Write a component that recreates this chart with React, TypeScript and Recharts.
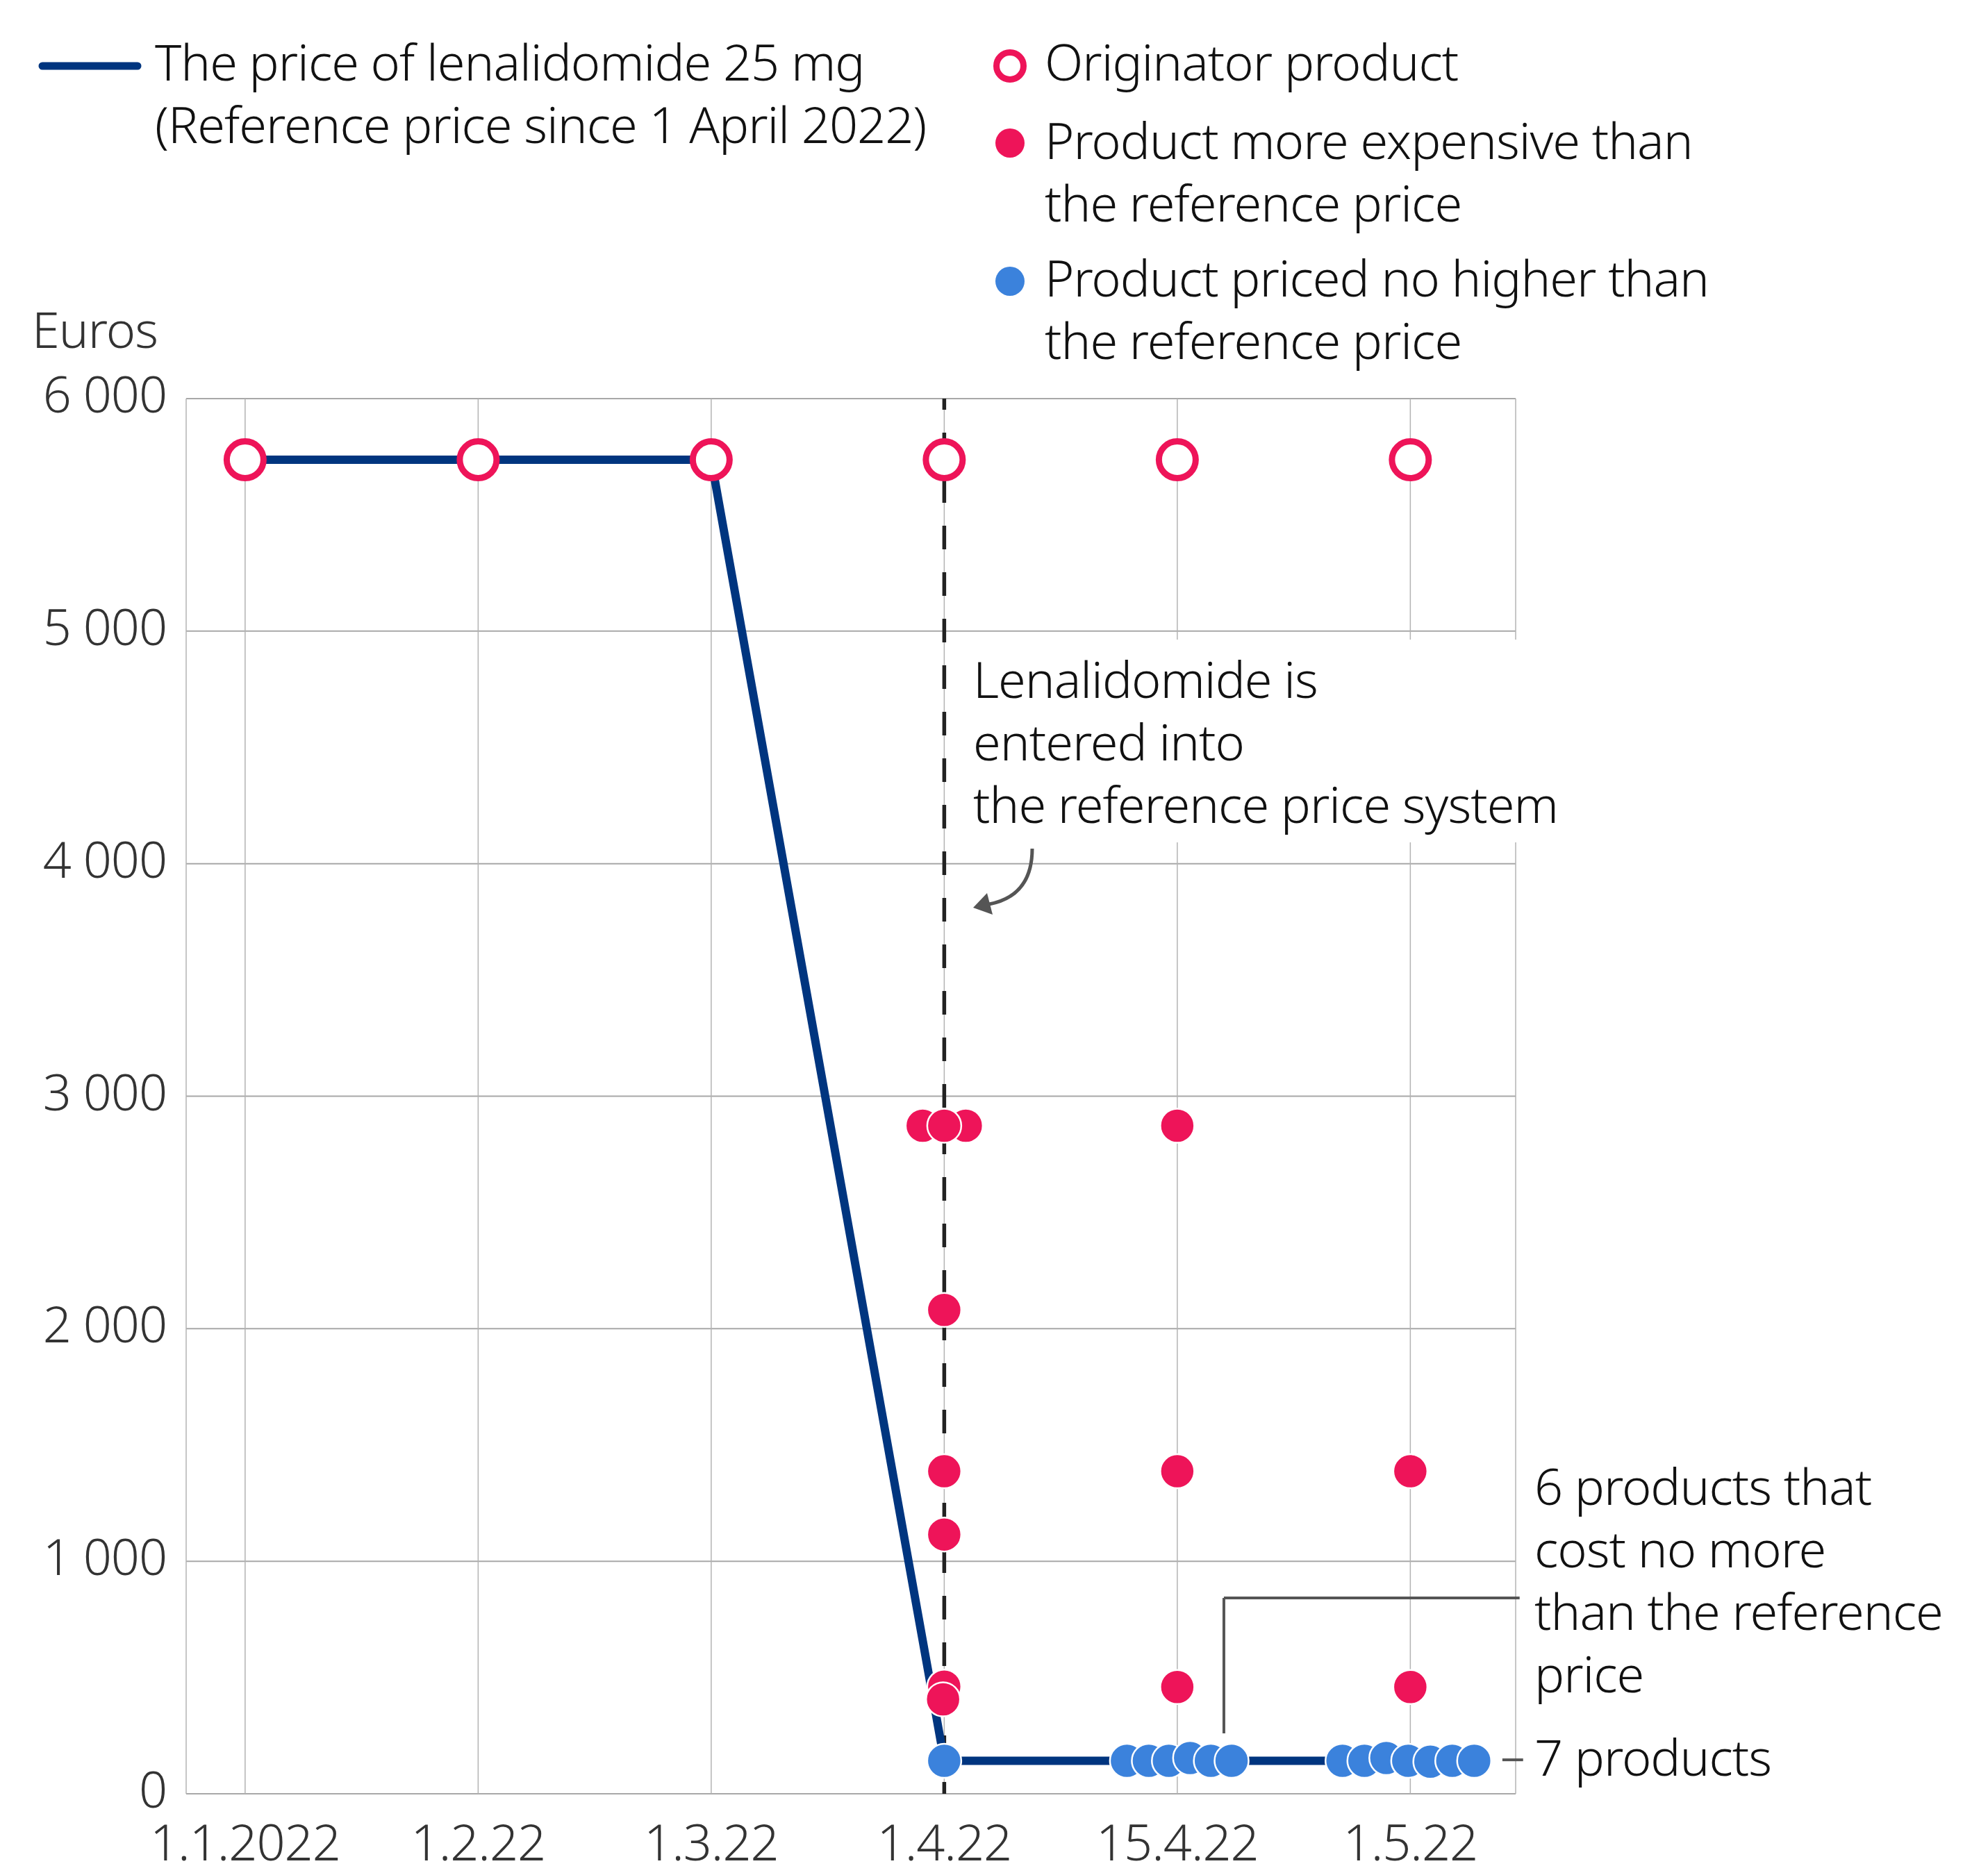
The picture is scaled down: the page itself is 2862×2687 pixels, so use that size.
import React from "react";
import {
  ComposedChart, Line, Scatter, XAxis, YAxis, CartesianGrid, ReferenceLine,
} from "recharts";

const NAVY = "#00357F";
const RED = "#EE1459";
const BLUE = "#3B82DC";
const GRID = "#b3b3b3";
const INK = "#111";
const AXIS_INK = "#333";
const NOTE = "#555";
const FONT = "'Noto Sans', 'Open Sans', sans-serif";
const FS = 72;

const W = 2862;
const H = 2687;

// x positions are date indexes (equal spacing), small offsets = jitter of overlapping dots
const dateTicks = [0, 1, 2, 3, 4, 5];
const dateLabels = ["1.1.2022", "1.2.22", "1.3.22", "1.4.22", "15.4.22", "1.5.22"];
const euroTicks = [0, 1000, 2000, 3000, 4000, 5000, 6000];

const priceLine = [
  { x: 0, y: 5737 }, { x: 1, y: 5737 }, { x: 2, y: 5737 },
  { x: 3, y: 142 }, { x: 4, y: 142 }, { x: 5, y: 142 },
];

const originator = [
  { x: 0, y: 5737 }, { x: 1, y: 5737 }, { x: 2, y: 5737 },
  { x: 3, y: 5737 }, { x: 4, y: 5737 }, { x: 5, y: 5737 },
];

const aboveRef = [
  { x: 2.9075, y: 2873 }, { x: 3.0925, y: 2873 }, { x: 3, y: 2873 },
  { x: 3, y: 2081 }, { x: 3, y: 1387 }, { x: 3, y: 1115 },
  { x: 3, y: 461 }, { x: 2.995, y: 406 },
  { x: 4, y: 2873 }, { x: 4, y: 1387 }, { x: 4, y: 459 },
  { x: 5, y: 1387 }, { x: 5, y: 459 },
];

const atOrBelowRef = [
  { x: 3, y: 142 },
  { x: 3.784, y: 142 }, { x: 3.878, y: 142 }, { x: 3.964, y: 142 },
  { x: 4.055, y: 154 }, { x: 4.144, y: 142 }, { x: 4.233, y: 142 },
  { x: 4.709, y: 142 }, { x: 4.803, y: 142 }, { x: 4.897, y: 154 },
  { x: 4.991, y: 142 }, { x: 5.086, y: 138 }, { x: 5.180, y: 142 },
  { x: 5.274, y: 142 },
];

const fmtEuro = (v: number) => (v >= 1000 ? `${Math.floor(v / 1000)} ${String(v % 1000).padStart(3, "0")}` : String(v));

function YTick(props: any) {
  const { x, y, payload } = props;
  return (
    <text x={x} y={y} dy={20} textAnchor="end" fontSize={FS} fill={AXIS_INK}>
      {fmtEuro(payload.value)}
    </text>
  );
}

function XTick(props: any) {
  const { x, y, payload } = props;
  return (
    <text x={x} y={y} dy={96} textAnchor="middle" fontSize={FS} fill={AXIS_INK}>
      {dateLabels[payload.value]}
    </text>
  );
}

const dot = (fill: string) => (p: any) => (
  <circle cx={p.cx} cy={p.cy} r={24.5} fill={fill} stroke="#fff" strokeWidth={2.5} />
);
const ring = (p: any) => (
  <circle cx={p.cx} cy={p.cy} r={26.5} fill="#fff" stroke={RED} strokeWidth={9} />
);

function Lines({ x, y, lines, fill = INK }: { x: number; y: number; lines: string[]; fill?: string }) {
  return (
    <text x={x} y={y} fontSize={FS} fill={fill}>
      {lines.map((l, i) => (
        <tspan key={i} x={x} dy={i === 0 ? 0 : 90}>{l}</tspan>
      ))}
    </text>
  );
}

export default function App() {
  return (
    <div style={{ position: "relative", width: W, height: H, background: "#fff", fontFamily: FONT, fontStretch: "condensed", fontWeight: 300, letterSpacing: -1 }}>
      <style>{"body{margin:0} .recharts-line-curve{stroke-width:12px}"}</style>
      <ComposedChart width={W} height={H} margin={{ top: 574, right: 680, bottom: 0, left: 168 }}>
        <CartesianGrid vertical={false} stroke="#a8a8a8" strokeWidth={2} />
        <CartesianGrid horizontal={false} stroke={GRID} strokeWidth={1.5} />
        <XAxis
          dataKey="x" type="number" domain={[-0.253, 5.452]} allowDataOverflow
          ticks={dateTicks} tick={<XTick />} tickLine={false} axisLine={false}
          tickSize={0} tickMargin={0} height={104} interval={0}
        />
        <YAxis
          dataKey="y" type="number" domain={[0, 6000]} allowDataOverflow
          ticks={euroTicks} tick={<YTick />} tickLine={false} axisLine={false}
          tickSize={0} tickMargin={28} width={100} interval={0}
        />
        <ReferenceLine x={3} stroke="#222" strokeWidth={5.5} strokeDasharray="34 33" strokeDashoffset={17} />
        <ReferenceLine segment={[{ x: 4.2, y: 260 }, { x: 4.2, y: 842 }]} stroke={NOTE} strokeWidth={4} ifOverflow="visible" />
        <ReferenceLine segment={[{ x: 4.2, y: 842 }, { x: 5.469, y: 842 }]} stroke={NOTE} strokeWidth={4} ifOverflow="visible" />
        <ReferenceLine segment={[{ x: 5.395, y: 146 }, { x: 5.484, y: 146 }]} stroke={NOTE} strokeWidth={4} ifOverflow="visible" />
        <Scatter data={aboveRef} shape={dot(RED)} isAnimationActive={false} />
        <Scatter data={atOrBelowRef} shape={dot(BLUE)} isAnimationActive={false} />
        <Scatter data={originator} shape={ring} isAnimationActive={false} />
        <Line
          data={priceLine} dataKey="y" type="linear" stroke={NAVY} strokeWidth={12}
          strokeLinecap="round" strokeLinejoin="round" dot={false} activeDot={false}
          isAnimationActive={false}
        />
      </ComposedChart>

      <svg width={W} height={H} style={{ position: "absolute", left: 0, top: 0, pointerEvents: "none" }}>
        {/* legend */}
        <line x1={61} y1={95} x2={198} y2={95} stroke={NAVY} strokeWidth={11} strokeLinecap="round" />
        <Lines x={223} y={116} lines={["The price of lenalidomide 25 mg", "(Reference price since 1 April 2022)"]} />
        <circle cx={1454} cy={95} r={19.5} fill="#fff" stroke={RED} strokeWidth={9} />
        <Lines x={1504} y={116} lines={["Originator product"]} />
        <circle cx={1454} cy={206} r={21} fill={RED} />
        <Lines x={1504} y={229} lines={["Product more expensive than", "the reference price"]} />
        <circle cx={1454} cy={405} r={21} fill={BLUE} />
        <Lines x={1504} y={427} lines={["Product priced no higher than", "the reference price"]} />

        <Lines x={46} y={501} lines={["Euros"]} fill={AXIS_INK} />

        {/* annotation */}
        <rect x={1385} y={921} width={870} height={292} fill="#fff" />
        <Lines x={1401} y={1005} lines={["Lenalidomide is", "entered into", "the reference price system"]} />
        <path d="M1486 1222 Q1486 1290 1424 1302" fill="none" stroke={NOTE} strokeWidth={5} />
        <path d="M1401 1307 L1421 1286 L1429 1317 Z" fill={NOTE} />

        <Lines x={2209} y={2167} lines={["6 products that", "cost no more", "than the reference", "price"]} />
        <Lines x={2209} y={2557} lines={["7 products"]} />
      </svg>
    </div>
  );
}
